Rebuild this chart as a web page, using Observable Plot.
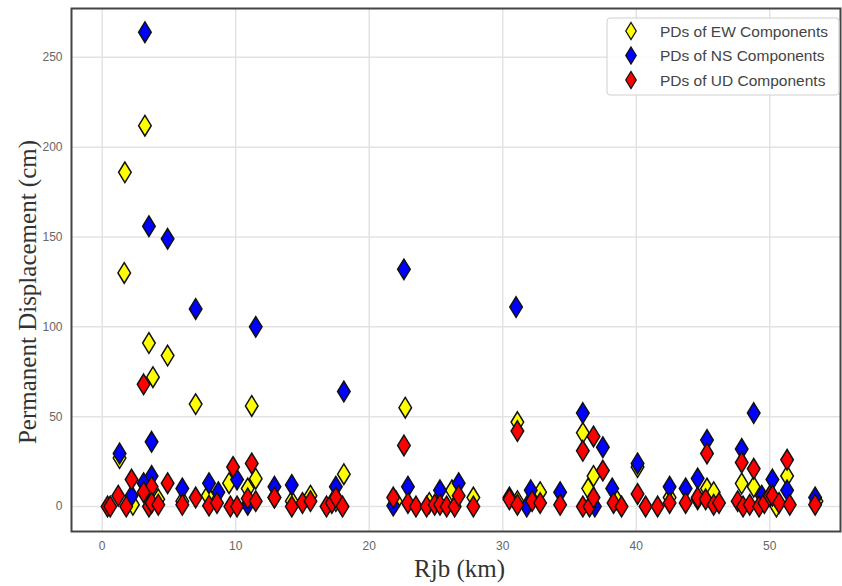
<!DOCTYPE html>
<html>
<head>
<meta charset="utf-8">
<script src="https://cdn.jsdelivr.net/npm/d3@7"></script>
<script src="https://cdn.jsdelivr.net/npm/@observablehq/plot@0.6"></script>
<style>
  html, body { margin: 0; padding: 0; background: #fff; }
  #chart { width: 842px; height: 586px; }
</style>
</head>
<body>
<div id="chart"></div>
<script>
// ---- Data (Rjb in km, PD in cm) ----
const ewX = [1.7, 3.2, 1.65, 3.5, 4.9, 3.8, 7.0, 11.2, 22.7, 31.1, 36.0, 1.3, 2.3, 3.4, 4.2, 7.9, 9.5, 10.9, 11.5, 12.9, 14.2, 15.6, 17.5, 18.1, 22.0, 24.5, 26.2, 27.8, 31.1, 32.8, 36.4, 36.8, 38.5, 40.1, 42.5, 44.6, 45.3, 45.8, 47.9, 48.8, 50.5, 51.3, 53.5, 6.0];
const ewY = [186, 212, 130, 91, 84, 72, 57, 56, 55, 47, 41, 27, 1, 10, 4, 6, 13, 10, 15.5, 5, 3, 6, 3, 18, 3, 2, 9, 5, 3, 8, 10, 17, 4, 22, 5, 4, 10, 8, 12.8, 11, 0, 17, 3, 3];

const nsX = [3.2, 3.5, 4.9, 7.0, 11.5, 22.6, 31.0, 18.1, 36.0, 48.8, 37.5, 3.7, 45.3, 47.9, 1.3, 40.1, 3.7, 3.1, 2.2, 6.0, 8.0, 8.7, 10.1, 10.9, 12.9, 14.2, 17.5, 22.9, 25.3, 26.7, 21.8, 30.5, 32.1, 34.3, 38.2, 42.5, 43.7, 44.6, 49.4, 50.2, 51.3, 53.4, 36.9, 31.8];
const nsY = [264, 156, 149, 110, 100, 132, 111, 64, 52, 52, 33, 36, 37, 32, 29.5, 24, 17, 13, 6, 10, 13, 8, 15, 1, 11, 12, 11, 11, 9, 13, 0.5, 5, 9, 8, 10, 11, 10, 15.6, 6, 15, 9, 5, 0, 0];

const udX = [3.1, 22.6, 31.1, 36.8, 36.0, 45.3, 51.3, 47.9, 9.8, 11.2, 48.8, 37.5, 2.2, 4.9, 3.7, 3.1, 1.2, 0.4, 0.6, 1.8, 3.5, 3.7, 4.2, 6.0, 7.0, 8.0, 8.6, 9.6, 10.1, 10.9, 11.5, 12.9, 14.2, 15.0, 15.6, 16.8, 17.2, 17.5, 18.0, 21.8, 22.9, 23.5, 24.3, 24.9, 25.3, 25.8, 26.4, 26.7, 27.8, 30.5, 31.1, 32.2, 32.8, 34.3, 36.0, 36.5, 36.8, 38.3, 38.9, 40.1, 40.7, 41.6, 42.5, 43.7, 44.6, 45.2, 45.8, 46.2, 47.6, 48.0, 48.5, 49.2, 49.6, 50.0, 50.2, 50.7, 51.5, 53.4];
const udY = [68, 34, 42, 39, 31, 29.5, 26, 24.5, 22, 24, 21, 20, 15, 13, 11, 8, 6, 0, 0, 0, 0, 2, 1, 1, 5, 0.5, 2, 0, 0, 4.5, 3, 5, 0, 2, 3, 0, 2, 5, 0, 5, 2, 0, 0, 1, 1, 0, 0, 6, 0, 4, 1, 3, 2, 1, 0, 0, 5, 2, 0, 7, 0, 0, 2, 2, 5, 4, 1, 2, 3, 0, 1, 0, 2, 6, 6, 2, 1, 1];

const seriesNames = ["PDs of EW Components", "PDs of NS Components", "PDs of UD Components"];
const seriesColors = ["#ffff00", "#0000ff", "#ff0000"];
const xTicks = [0, 10, 20, 30, 40, 50];
const yTicks = [0, 50, 100, 150, 200, 250];

const toRows = (xs, ys) => xs.map((x, i) => ({x, y: ys[i]}));
const ew = toRows(ewX, ewY), ns = toRows(nsX, nsY), ud = toRows(udX, udY);

// tall diamond symbol
const diamond = {
  draw(ctx, size) {
    const w = 6.3, h = 10.3;
    ctx.moveTo(0, -h); ctx.lineTo(w, 0); ctx.lineTo(0, h); ctx.lineTo(-w, 0); ctx.closePath();
  }
};

const dotOpts = (fill) => ({x: "x", y: "y", symbol: diamond, r: 5, fill, stroke: "#111", strokeWidth: 1.5});

const W = 842, H = 586;
const mL = 71, mR = 2, mT = 8, mB = 55;

const plot = Plot.plot({
  width: W, height: H,
  marginLeft: mL, marginRight: mR, marginTop: mT, marginBottom: mB,
  style: {fontFamily: "Liberation Sans, Arial, sans-serif", fontSize: "12px", color: "#555", background: "#fff"},
  x: {domain: [-2.3, 55.3], ticks: xTicks, label: null},
  y: {domain: [-13.9, 277.2], ticks: yTicks, label: null},
  marks: [
    Plot.gridX(xTicks, {stroke: "#e3e3e3", strokeOpacity: 1, strokeWidth: 1.5}),
    Plot.gridY(yTicks, {stroke: "#e3e3e3", strokeOpacity: 1, strokeWidth: 1.5}),
    Plot.axisX(xTicks, {tickSize: 0, tickPadding: 10, fill: "#666", fontSize: 12}),
    Plot.axisY(yTicks, {tickSize: 0, tickPadding: 9, fill: "#666", fontSize: 12}),
    Plot.dot(ew, dotOpts(seriesColors[0])),
    Plot.dot(ns, dotOpts(seriesColors[1])),
    Plot.dot(ud, dotOpts(seriesColors[2])),
    Plot.frame({stroke: "#444", strokeWidth: 2})
  ]
});

document.getElementById("chart").appendChild(plot);

const svg = d3.select(plot);
// axis titles
svg.append("text")
  .attr("x", mL + (W - mL - mR) / 2 + 4).attr("y", 577)
  .attr("text-anchor", "middle")
  .attr("font-family", "Liberation Serif, Times New Roman, serif")
  .attr("font-size", 25).attr("fill", "#333")
  .text("Rjb (km)");
svg.append("text")
  .attr("transform", `translate(36,${292}) rotate(-90)`)
  .attr("text-anchor", "middle")
  .attr("font-family", "Liberation Serif, Times New Roman, serif")
  .attr("font-size", 25).attr("fill", "#333")
  .text("Permanent Displacement (cm)");

// legend
const lg = svg.append("g");
lg.append("rect").attr("x", 607).attr("y", 18).attr("width", 232).attr("height", 77)
  .attr("rx", 3).attr("fill", "#fff").attr("fill-opacity", 0.85).attr("stroke", "#d0d0d0");
seriesNames.forEach((name, i) => {
  const cy = 31 + i * 24.5;
  lg.append("path")
    .attr("d", "M0,-8.5L5.2,0L0,8.5L-5.2,0Z")
    .attr("transform", `translate(631,${cy})`)
    .attr("fill", seriesColors[i]).attr("stroke", "#111").attr("stroke-width", 1.3);
  lg.append("text").attr("x", 660).attr("y", cy).attr("dy", "0.36em")
    .attr("text-anchor", "start")
    .attr("font-family", "Liberation Sans, Arial, sans-serif").attr("font-size", 15.5)
    .attr("fill", "#444").text(name);
});
</script>
</body>
</html>
